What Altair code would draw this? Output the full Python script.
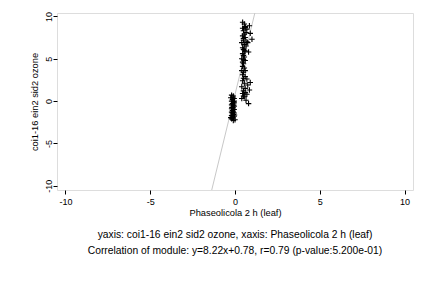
import altair as alt
import pandas as pd

# Cluster near the origin
xa = [-0.2, -0.1, -0.25, -0.05, -0.15, -0.2, -0.1, -0.05, -0.15, -0.2, -0.1, -0.05,
      -0.15, -0.1, -0.2, -0.05, -0.15, -0.1, -0.2, -0.05, -0.15, -0.1, -0.2, -0.05,
      -0.15, -0.1, -0.2, 0.0, -0.1, -0.25, -0.05, -0.12, -0.08, -0.18, -0.12, -0.03]
ya = [0.7, 0.6, 0.4, 0.3, 0.2, 0.0, -0.1, -0.2, -0.3, -0.45, -0.5, -0.6,
      -0.7, -0.8, -0.9, -1.0, -1.1, -1.2, -1.3, -1.4, -1.5, -1.6, -1.7, -1.8,
      -1.9, -2.0, -2.1, -2.2, -2.3, -1.95, 0.0, 0.45, -0.35, -0.75, -1.35, -1.65]

# Upper cluster
xb = [0.45, 0.55, 0.6, 0.45, 0.85, 0.7, 0.5, 0.65, 0.55, 0.9, 0.45, 0.6, 1.0, 0.5,
      0.7, 0.4, 0.55, 0.65, 0.45, 0.5, 0.6, 0.8, 0.45, 0.5, 0.55, 0.4, 0.6, 0.45,
      0.5, 0.45, 0.55, 0.4, 0.5, 0.45, 0.6, 0.5, 0.7, 0.45, 0.9, 0.55, 0.75, 0.4,
      0.6, 0.5, 0.85, 0.45, 0.7, 0.55, 0.4, 0.65, 0.8, 0.5, 0.6, 0.5, 0.55, 0.5,
      0.6, 0.75, 0.6]
yb = [9.3, 9.1, 8.8, 8.6, 8.9, 8.5, 8.3, 8.1, 7.9, 8.0, 7.7, 7.5, 7.3, 7.2,
      7.0, 6.9, 6.7, 6.5, 6.3, 6.1, 5.9, 5.8, 5.6, 5.4, 5.2, 5.0, 4.8, 4.6,
      4.4, 4.1, 3.9, 3.6, 3.4, 3.1, 2.9, 2.7, 2.6, 2.4, 2.2, 2.1, 1.9, 1.7,
      1.5, 1.2, 1.3, 0.9, 0.8, 0.5, 0.3, 0.1, -0.3, 0.6, 3.6, 4.9, 6.0, 7.4,
      8.7, 6.9, 1.0]

slope = 8.22
intercept = 0.78
tick_vals = [-10, -5, 0, 5, 10]

pts = pd.DataFrame({"x": xa + xb, "y": ya + yb})
line_x = [-2.0, 2.0]
line = pd.DataFrame({"x": line_x, "y": [slope * v + intercept for v in line_x]})

FONT = "Liberation Sans"
xscale = alt.Scale(domain=[-10.5, 10.5], nice=False, zero=False)
yscale = alt.Scale(domain=[-10.5, 10.4], nice=False, zero=False)

xaxis = alt.Axis(values=tick_vals, grid=False, domain=False, tickColor="black",
                 tickSize=4, labelFontSize=9, labelFont=FONT, labelColor="black",
                 labelPadding=3, title="Phaseolicola 2 h (leaf)", titleFont=FONT,
                 titleFontSize=9.3, titleFontWeight="normal", titleColor="black",
                 titlePadding=2, labelExpr="datum.value + ''")
yaxis = alt.Axis(values=tick_vals, grid=False, domain=False, tickColor="black",
                 tickSize=4, labelFontSize=9, labelFont=FONT, labelColor="black",
                 labelAngle=270, labelAlign="center", labelBaseline="bottom",
                 labelPadding=0, title="coi1-16 ein2 sid2 ozone", titleFont=FONT,
                 titleFontSize=9.3, titleFontWeight="normal", titleColor="black",
                 titlePadding=5, labelExpr="datum.value + ''")

lines = alt.Chart(line).mark_line(color="#c8c8c8", strokeWidth=1, clip=True).encode(
    x=alt.X("x:Q", scale=xscale, axis=xaxis),
    y=alt.Y("y:Q", scale=yscale, axis=yaxis),
)

points = alt.Chart(pts).mark_point(
    shape="M-1,0L1,0M0,-1L0,1", size=30, filled=False, color="black",
    strokeWidth=1.1, opacity=1, clip=True
).encode(
    x=alt.X("x:Q", scale=xscale, axis=xaxis),
    y=alt.Y("y:Q", scale=yscale, axis=yaxis),
)

chart = alt.layer(lines, points).properties(
    width=356, height=177,
    autosize=alt.AutoSizeParams(type="none"),
    padding={"left": 57, "top": 13, "right": 19, "bottom": 98},
    title=alt.TitleParams(
        text=["yaxis: coi1-16 ein2 sid2 ozone, xaxis: Phaseolicola 2 h (leaf)",
              "Correlation of module: y=8.22x+0.78, r=0.79 (p-value:5.200e-01)"],
        orient="bottom", font=FONT, fontSize=10.3, fontWeight="normal",
        color="black", lineHeight=16, offset=13, anchor="middle"),
).configure_view(stroke="black", strokeWidth=1).configure(background="white")

chart.save("out.html", embed_options={"renderer": "svg", "actions": False})
